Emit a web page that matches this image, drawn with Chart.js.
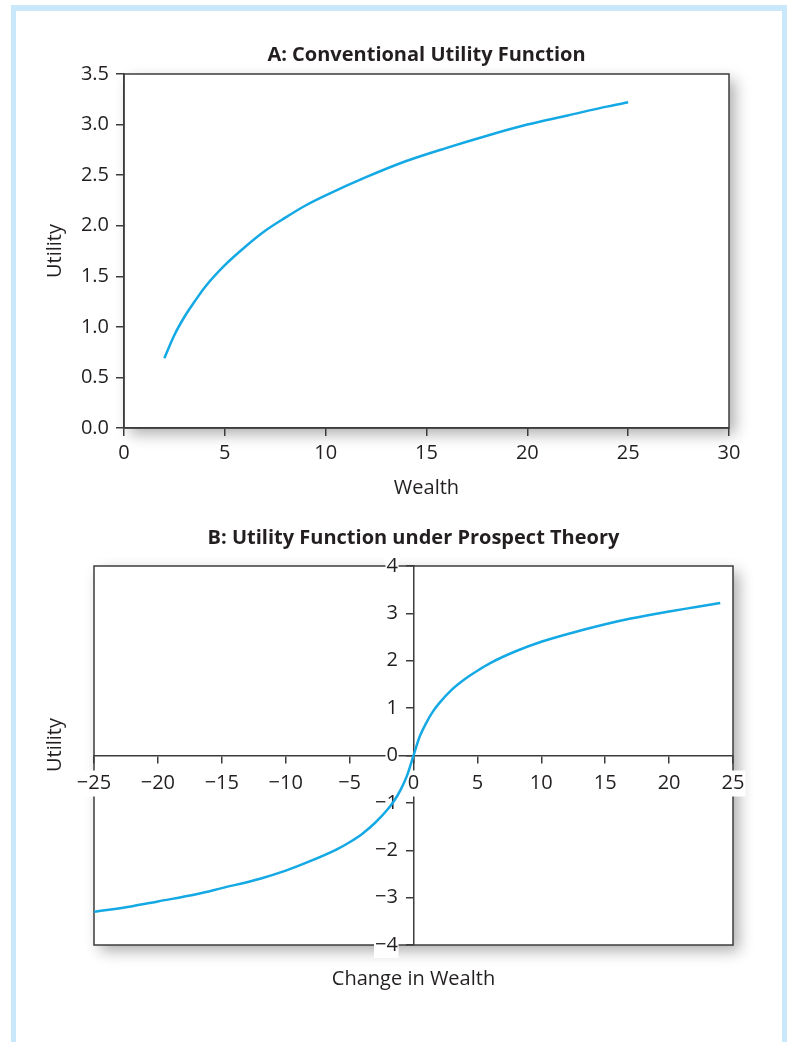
<!DOCTYPE html>
<html>
<head>
<meta charset="utf-8">
<script src="https://cdn.jsdelivr.net/npm/chart.js@4.4.1/dist/chart.umd.min.js"></script>
<style>
  html,body{margin:0;padding:0;background:#fff;}
  body{width:787px;height:1042px;position:relative;overflow:hidden;}
  #frame{position:absolute;left:11px;top:5px;width:766px;height:1060px;border:5px solid #c9e9fa;border-top-width:6px;}
  #boxA{position:absolute;left:0;top:0;width:787px;height:510px;}
  #boxB{position:absolute;left:0;top:500px;width:787px;height:542px;}
</style>
</head>
<body>
<div id="frame"></div>
<div id="boxA"><canvas id="chartA"></canvas></div>
<div id="boxB"><canvas id="chartB"></canvas></div>
<script>
// panel A: conventional utility
const wealthA  = [2, 2.5, 3, 3.5, 4, 5, 6, 7, 8, 9, 10, 12, 14, 16, 18, 20, 22, 24, 25];
const utilityA = [0.69, 0.92, 1.10, 1.25, 1.39, 1.61, 1.79, 1.95, 2.08, 2.20, 2.30, 2.48, 2.64, 2.77, 2.89, 3.00, 3.09, 3.18, 3.22];

// panel B: prospect theory
const changeB  = [-25, -22, -20, -17, -15, -12, -10, -8, -6, -5, -4, -3, -2, -1.5, -1, -0.5, 0,
                  0.5, 1, 1.5, 2, 3, 4, 5, 6, 8, 10, 12, 15, 17, 20, 22, 24];
const utilityB = [-3.30, -3.18, -3.08, -2.93, -2.80, -2.60, -2.43, -2.22, -1.98, -1.83, -1.65, -1.42, -1.13, -0.95, -0.72, -0.42, 0,
                  0.41, 0.69, 0.92, 1.10, 1.39, 1.61, 1.79, 1.95, 2.20, 2.40, 2.56, 2.77, 2.89, 3.04, 3.13, 3.22];

const xTicksA = [0, 5, 10, 15, 20, 25, 30];
const yTicksA = [0, 0.5, 1, 1.5, 2, 2.5, 3, 3.5];
const xTicksB = [-25, -20, -15, -10, -5, 0, 5, 10, 15, 20, 25];
const yTicksB = [-4, -3, -2, -1, 0, 1, 2, 3, 4];

Chart.defaults.font.family = "'Open Sans', 'Noto Sans', sans-serif";
Chart.defaults.color = '#231f20';

const curveColor = '#14a9e4';
const axisColor = '#3c3c3c';
const minus = v => (v < 0 ? '\u2212' + Math.abs(v) : String(v));

// box with drop shadow behind plot area + titles/labels
const panelPlugin = {
  id: 'panel',
  beforeDraw(chart, args, opts) {
    const a = chart.chartArea, ctx = chart.ctx;
    ctx.save();
    ctx.shadowColor = 'rgba(0,0,0,0.32)';
    ctx.shadowBlur = 14;
    ctx.shadowOffsetX = 6;
    ctx.shadowOffsetY = 6;
    ctx.fillStyle = '#fff';
    ctx.fillRect(a.left, a.top, a.right - a.left, a.bottom - a.top);
    ctx.restore();
    ctx.save();
    ctx.strokeStyle = axisColor;
    ctx.lineWidth = 1.5;
    ctx.strokeRect(a.left, a.top, a.right - a.left, a.bottom - a.top);
    ctx.restore();
  },
  afterDraw(chart, args, opts) {
    const a = chart.chartArea, ctx = chart.ctx;
    const cx = (a.left + a.right) / 2;
    ctx.save();
    ctx.fillStyle = '#231f20';
    ctx.textAlign = 'center';
    ctx.textBaseline = 'middle';
    ctx.font = "bold 20px 'Open Sans'";
    ctx.fillText(opts.title, cx, opts.titleY);
    ctx.font = "20px 'Open Sans'";
    if (opts.xLabel) ctx.fillText(opts.xLabel, cx, opts.xLabelY);
    if (opts.yLabel) {
      ctx.translate(opts.yLabelX, opts.yLabelY);
      ctx.rotate(-Math.PI / 2);
      ctx.fillText(opts.yLabel, 0, 0);
    }
    ctx.restore();
  }
};

new Chart(document.getElementById('chartA'), {
  type: 'line',
  data: {
    datasets: [{
      data: wealthA.map((w, i) => ({x: w, y: utilityA[i]})),
      borderColor: curveColor,
      borderWidth: 2.5,
      pointRadius: 0,
      cubicInterpolationMode: 'monotone',
      fill: false
    }]
  },
  options: {
    responsive: true,
    maintainAspectRatio: false,
    animation: false,
    layout: {padding: {left: 39, right: 58, top: 74, bottom: 6}},
    plugins: {
      legend: {display: false},
      tooltip: {enabled: false},
      panel: {title: 'A: Conventional Utility Function', titleY: 55}
    },
    scales: {
      x: {
        type: 'linear', min: 0, max: 30,
        afterBuildTicks: s => { s.ticks = xTicksA.map(v => ({value: v})); },
        afterFit: s => { s.height = 76; },
        ticks: {font: {size: 20}, padding: 5, maxRotation: 0, callback: v => v},
        grid: {drawOnChartArea: false, tickLength: 8, color: axisColor, lineWidth: 1.5},
        border: {color: axisColor, width: 1.5},
        title: {display: true, text: 'Wealth', font: {size: 20}, padding: {top: 4, bottom: 4}}
      },
      y: {
        min: 0, max: 3.5,
        afterBuildTicks: s => { s.ticks = yTicksA.map(v => ({value: v})); },
        afterFit: s => { s.width = 85; },
        ticks: {font: {size: 20}, padding: 7, callback: v => v.toFixed(1)},
        grid: {drawOnChartArea: false, tickLength: 8, color: axisColor, lineWidth: 1.5},
        border: {color: axisColor, width: 1.5},
        title: {display: true, text: 'Utility', font: {size: 20}, padding: {top: 4, bottom: 4}}
      }
    }
  },
  plugins: [panelPlugin]
});

new Chart(document.getElementById('chartB'), {
  type: 'line',
  data: {
    datasets: [{
      data: changeB.map((c, i) => ({x: c, y: utilityB[i]})),
      borderColor: curveColor,
      borderWidth: 2.5,
      pointRadius: 0,
      cubicInterpolationMode: 'monotone',
      fill: false
    }]
  },
  options: {
    responsive: true,
    maintainAspectRatio: false,
    animation: false,
    layout: {padding: {left: 94, right: 54, top: 66, bottom: 97}},
    plugins: {
      legend: {display: false},
      tooltip: {enabled: false},
      panel: {
        title: 'B: Utility Function under Prospect Theory', titleY: 38,
        xLabel: 'Change in Wealth', xLabelY: 479,
        yLabel: 'Utility', yLabelX: 55, yLabelY: 245
      }
    },
    scales: {
      x: {
        type: 'linear', min: -25, max: 25, position: {y: 0},
        afterBuildTicks: s => { s.ticks = xTicksB.map(v => ({value: v})); },
        ticks: {font: {size: 20}, padding: 9, maxRotation: 0, callback: minus,
                showLabelBackdrop: true, backdropColor: '#fff', backdropPadding: 1},
        grid: {drawOnChartArea: false, tickLength: 7, color: axisColor, lineWidth: 1.5, z: -1},
        border: {color: axisColor, width: 1.5, z: -1}
      },
      y: {
        min: -4, max: 4, position: {x: 0},
        afterBuildTicks: s => { s.ticks = yTicksB.map(v => ({value: v})); },
        // labels sit right-aligned on the centred axis, trailing spaces push them left of the tick marks
        ticks: {font: {size: 20}, callback: v => minus(v) + '   ',
                showLabelBackdrop: true, backdropColor: '#fff',
                backdropPadding: {top: 1, bottom: 1, left: 1, right: -15}},
        grid: {drawOnChartArea: false, tickLength: 7, color: axisColor, lineWidth: 1.5, z: -1},
        border: {color: axisColor, width: 1.5, z: -1}
      }
    }
  },
  plugins: [panelPlugin]
});
</script>
</body>
</html>
